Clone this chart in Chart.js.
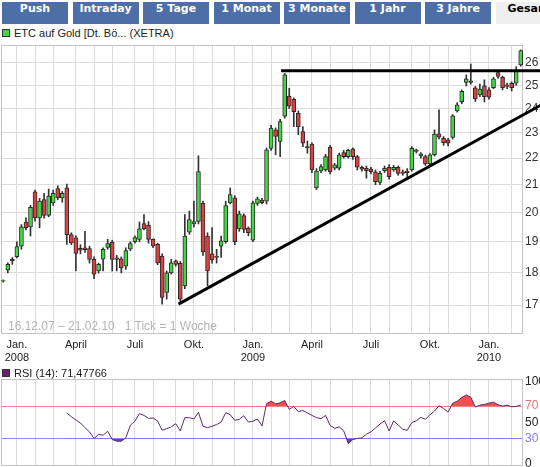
<!DOCTYPE html>
<html>
<head>
<meta charset="utf-8">
<script src="https://cdn.jsdelivr.net/npm/chart.js@4.4.0/dist/chart.umd.min.js"></script>
<style>
    body { margin: 0; background: #fff; width: 540px; height: 467px; overflow: hidden; position: relative; font-family: 'Liberation Sans', Arial, sans-serif; }
    .tab { position: absolute; top: 2px; height: 22px; line-height: 22px; width: 66px; background: #4d6ea6; color: #fff; font: bold 11px 'DejaVu Sans', Verdana, sans-serif; text-align: center; white-space: nowrap; overflow: hidden; }
    .tab.sel { background: #efefef; color: #000; text-align: left; padding-left: 12px; }
    .leg { position: absolute; left: 2px; font-size: 11px; line-height: 13px; color: #222; white-space: nowrap; }
    .leg i { display: inline-block; width: 6px; height: 6px; border: 1px solid #333; margin-right: 4px; }
    .note { position: absolute; left: 8px; top: 319px; font-size: 12px; color: #b4b4b4; white-space: nowrap; }
    canvas { position: absolute; left: 0; }
</style>
</head>
<body>
<div id="tabs"></div>
<div class="leg" style="top:27px"><i style="background:#41d941"></i>ETC auf Gold [Dt. Bö... (XETRA)</div>
<canvas id="price-chart" width="540" height="330" style="top:40px"></canvas>
<div class="note">16.12.07 – 21.02.10&nbsp;&nbsp;&nbsp;1 Tick = 1 Woche</div>
<div class="leg" style="top:367px"><i style="background:#6a1f72"></i>RSI (14): 71,47766</div>
<canvas id="rsi-chart" width="540" height="91" style="top:376px"></canvas>
<script>
// Wochenkerzen 16.12.07 - 21.02.10
const opens = [17.73, 18.08, 18.42, 18.51, 18.85, 19.67, 19.50, 20.74, 19.81, 20.46, 19.90, 20.34, 20.86, 20.52, 20.88, 19.24, 19.13, 18.78, 18.80, 18.77,
    18.42, 18.05, 18.43, 18.81, 18.99, 18.47, 18.44, 18.20, 18.75, 19.00, 19.08, 19.61, 19.56, 19.08, 18.91, 18.53, 17.38, 17.99, 18.37, 18.29,
    17.58, 19.32, 19.60, 19.69, 20.33, 19.19, 18.60, 18.52, 18.85, 19.00, 20.34, 20.52, 19.43, 19.89, 19.46, 19.05, 20.32, 20.44, 20.40, 22.38,
    23.12, 22.65, 23.68, 24.53, 24.39, 23.80, 23.05, 22.45, 22.55, 20.88, 21.51, 21.55, 22.42, 21.62, 21.62, 22.22, 22.06, 22.35, 22.06, 21.65,
    21.61, 21.58, 21.48, 21.08, 21.52, 21.65, 21.55, 21.65, 21.48, 21.51, 21.55, 22.32, 22.09, 22.06, 21.78, 22.13, 22.96, 22.78, 22.72, 22.81,
    23.90, 24.29, 25.13, 25.20, 24.89, 24.58, 24.97, 24.80, 24.89, 25.56, 25.35, 25.02, 25.09, 25.09, 25.91];
const highs = [17.77, 18.31, 18.48, 19.00, 19.58, 19.81, 20.25, 20.80, 20.50, 20.68, 20.84, 20.80, 20.96, 20.75, 21.02, 19.30, 19.20, 18.90, 19.35, 18.85,
    18.50, 18.30, 18.80, 19.08, 19.05, 18.55, 18.50, 18.80, 19.00, 19.20, 19.67, 19.93, 19.68, 19.10, 18.95, 18.60, 18.05, 18.42, 18.40, 18.35,
    19.93, 20.05, 20.40, 22.09, 20.40, 19.30, 19.48, 18.75, 19.19, 20.40, 20.88, 20.60, 20.05, 19.95, 19.50, 20.40, 20.55, 20.50, 22.40, 23.30,
    23.20, 23.55, 25.53, 24.87, 24.45, 23.90, 23.25, 22.67, 22.60, 21.60, 21.75, 22.15, 22.50, 21.80, 22.20, 22.30, 22.35, 22.40, 22.10, 21.70,
    21.70, 21.65, 21.55, 21.50, 21.70, 21.75, 21.72, 21.70, 21.55, 21.60, 22.45, 22.35, 22.22, 22.12, 22.18, 23.12, 23.95, 22.85, 22.78, 23.75,
    24.25, 24.80, 25.46, 25.95, 24.95, 25.05, 25.24, 24.90, 25.35, 25.65, 25.40, 25.10, 25.15, 25.83, 26.60];
const lows = [17.70, 17.99, 18.26, 18.47, 18.75, 19.40, 19.19, 19.70, 19.47, 19.80, 19.85, 20.25, 20.45, 20.36, 18.91, 18.90, 18.05, 18.60, 18.65, 18.30,
    17.81, 17.98, 18.05, 18.75, 18.05, 18.05, 17.99, 18.10, 18.70, 18.95, 19.00, 19.40, 18.95, 18.80, 18.25, 17.03, 17.18, 17.95, 18.20, 17.08,
    17.50, 19.25, 19.50, 19.60, 18.55, 17.59, 18.30, 18.30, 18.48, 18.95, 20.30, 18.90, 19.35, 19.30, 19.20, 19.00, 20.25, 20.30, 20.30, 22.30,
    22.13, 22.06, 23.60, 24.00, 23.25, 22.92, 22.45, 22.19, 21.45, 20.82, 21.45, 21.50, 21.40, 21.55, 21.55, 22.00, 22.00, 21.95, 21.55, 21.50,
    21.24, 21.40, 21.00, 21.00, 21.45, 21.20, 21.50, 21.35, 21.35, 21.20, 21.50, 22.20, 22.00, 21.72, 21.72, 22.08, 22.75, 22.50, 22.48, 22.75,
    23.85, 24.20, 24.97, 25.05, 24.30, 24.50, 24.28, 24.40, 24.85, 25.30, 24.80, 24.85, 24.75, 25.00, 25.85];
const closes = [17.75, 18.26, 18.38, 18.84, 19.50, 19.47, 20.18, 19.81, 20.40, 19.90, 20.58, 20.68, 20.52, 20.68, 19.24, 18.96, 18.61, 18.72, 18.74, 18.42,
    17.95, 18.26, 18.75, 18.94, 18.42, 18.42, 18.15, 18.71, 18.94, 19.14, 19.43, 19.43, 19.08, 18.86, 18.31, 17.23, 17.99, 18.31, 18.26, 17.18,
    19.19, 19.75, 19.68, 21.49, 18.66, 18.05, 18.40, 18.48, 19.03, 20.24, 20.64, 19.00, 19.95, 19.41, 19.30, 20.34, 20.48, 20.35, 22.32, 23.19,
    22.85, 23.46, 25.46, 24.10, 23.87, 23.25, 22.59, 22.40, 21.55, 21.51, 21.68, 22.06, 21.48, 21.74, 22.13, 22.06, 22.30, 22.06, 21.65, 21.58,
    21.52, 21.48, 21.11, 21.42, 21.61, 21.30, 21.65, 21.42, 21.42, 21.45, 22.38, 22.26, 22.17, 21.78, 22.13, 22.95, 22.82, 22.61, 22.59, 23.69,
    24.16, 24.74, 25.28, 25.13, 24.41, 24.83, 24.50, 24.48, 25.28, 25.39, 24.90, 24.95, 24.89, 25.68, 26.57];
// RSI (14), erste 14 Wochen ohne Wert
const rsiValues = [null, null, null, null, null, null, null, null, null, null, null, null, null, null, 61.6, 57.1, 53.1, 49.4, 43.7, 38.5,
    30.4, 35.6, 34.4, 39.3, 29.2, 27.1, 27.1, 31.2, 46.6, 51.8, 60.8, 58.7, 55.1, 55.5, 51.8, 40.5, 42.5, 44.6, 48.6, 39.7,
    55.9, 55.9, 54.3, 62.4, 45.4, 43.7, 45.4, 47.4, 50.6, 62.0, 59.5, 52.7, 53.9, 58.3, 50.6, 51.4, 54.3, 45.8, 72.9, 76.1,
    72.9, 74.1, 77.0, 66.0, 69.7, 63.2, 64.8, 61.6, 58.7, 55.9, 54.7, 58.7, 46.6, 42.9, 44.6, 39.7, 24.3, 29.2, 30.4, 31.2,
    35.6, 38.5, 43.3, 48.2, 52.2, 39.7, 51.8, 47.0, 41.7, 40.5, 49.8, 52.2, 56.3, 53.9, 59.5, 64.0, 70.5, 67.2, 62.8, 73.7,
    76.1, 80.6, 83.8, 81.0, 68.9, 71.3, 72.1, 73.7, 74.9, 71.7, 70.1, 71.3, 69.3, 69.7, 71.5];

// Trendlinien (Woche, Kurs)
const supportLine = [{ x: 38.6, y: 17.03 }, { x: 118.5, y: 24.15 }];
const resistanceLine = [{ x: 61.2, y: 25.64 }, { x: 118.5, y: 25.64 }];

const yTicks = [17, 18, 19, 20, 21, 22, 23, 24, 25, 26];
const rsiTicks = [0, 30, 50, 70, 100];
const monthNames = ['Jan.', '', '', 'April', '', '', 'Juli', '', '', 'Okt.', '', ''];
const tabLabels = ['Push', 'Intraday', '5 Tage', '1 Monat', '3 Monate', '1 Jahr', '3 Jahre', 'Gesamt'];

// Reiter oben
const tabsEl = document.getElementById('tabs');
tabLabels.forEach((t, k) => {
    const d = document.createElement('div');
    d.className = 'tab' + (k === tabLabels.length - 1 ? ' sel' : '');
    d.style.left = (2 + k * 70.5) + 'px';
    d.textContent = t;
    tabsEl.appendChild(d);
});

// Monatsraster: erste Woche jedes Monats
const startDate = Date.UTC(2007, 11, 16);
const monthTicks = [];
for (let y = 2008; y <= 2010; y++) {
    for (let m = 0; m < 12; m++) {
        if (y === 2010 && m > 1) break;
        const w = Math.ceil((Date.UTC(y, m, 1) - startDate) / (7 * 864e5));
        monthTicks.push({ value: w, label: m === 0 ? [monthNames[m], String(y)] : monthNames[m] });
    }
}

const N = closes.length;
const gridColor = '#dcdcdc';

const plotBorder = {
    id: 'plotBorder',
    beforeDatasetsDraw(chart) {
        const a = chart.chartArea;
        const ctx = chart.ctx;
        ctx.save();
        ctx.strokeStyle = '#c4c4c4';
        ctx.lineWidth = 1;
        ctx.strokeRect(Math.round(a.left) + 0.5, Math.round(a.top) + 0.5, Math.round(a.right - a.left) - 1, Math.round(a.bottom - a.top) - 1);
        ctx.restore();
    }
};

function xScale(showLabels) {
    return {
        type: 'linear',
        min: -0.5,
        max: N - 0.5,
        offset: false,
        afterBuildTicks: s => { s.ticks = monthTicks.map(t => ({ value: t.value })); },
        afterFit: s => { s.height = showLabels ? 36 : 0; s.paddingLeft = 0; s.paddingRight = 0; },
        grid: { color: gridColor, drawTicks: false, offset: false },
        border: { display: false },
        ticks: {
            display: showLabels,
            autoSkip: false,
            maxRotation: 0,
            padding: 4,
            color: '#222',
            font: { size: 11 },
            callback: (v, idx) => monthTicks[idx] ? monthTicks[idx].label : ''
        }
    };
}

Chart.defaults.font.family = "'Liberation Sans', Arial, sans-serif";

const bodyColors = opens.map((o, i) => closes[i] >= o ? '#41d941' : '#db4141');

new Chart(document.getElementById('price-chart'), {
    type: 'bar',
    data: {
        datasets: [
            {
                type: 'line',
                data: supportLine,
                borderColor: '#000',
                borderWidth: 3,
                pointRadius: 0,
                clip: false,
                order: 0
            },
            {
                type: 'line',
                data: resistanceLine,
                borderColor: '#000',
                borderWidth: 3,
                pointRadius: 0,
                clip: false,
                order: 0
            },
            {
                data: opens.map((o, i) => ({ x: i, y: [o, closes[i]] })),
                backgroundColor: bodyColors,
                borderColor: '#2a2a2a',
                borderWidth: 1,
                borderSkipped: false,
                barThickness: 4,
                grouped: false,
                order: 1
            },
            {
                data: lows.map((l, i) => ({ x: i, y: [l, highs[i]] })),
                backgroundColor: '#333',
                borderWidth: 0,
                barThickness: 1,
                grouped: false,
                order: 2
            }
        ]
    },
    options: {
        responsive: false,
        animation: false,
        devicePixelRatio: 1,
        layout: { padding: { top: 5, left: 1, right: 0, bottom: 0 } },
        plugins: { legend: { display: false }, tooltip: { enabled: false } },
        scales: {
            x: xScale(true),
            y: {
                type: 'logarithmic',
                position: 'right',
                min: 16.16,
                max: 26.83,
                afterBuildTicks: s => { s.ticks = yTicks.map(v => ({ value: v })); },
                afterFit: s => { s.width = 17; s.paddingTop = 0; s.paddingBottom = 0; },
                grid: { color: gridColor, drawTicks: false },
                border: { display: false },
                ticks: { padding: 2, color: '#333', font: { size: 12 }, callback: v => String(v) }
            }
        }
    },
    plugins: [plotBorder]
});

const rsiPoints = rsiValues.map((v, i) => ({ x: i, y: v })).filter(p => p.y !== null);

new Chart(document.getElementById('rsi-chart'), {
    type: 'line',
    data: {
        datasets: [
            {
                data: rsiPoints,
                borderColor: '#5e2a6e',
                borderWidth: 1,
                pointRadius: 0,
                tension: 0,
                fill: { value: 70, above: '#f05050', below: 'rgba(0,0,0,0)' }
            },
            {
                data: rsiPoints,
                borderWidth: 0,
                borderColor: 'rgba(0,0,0,0)',
                pointRadius: 0,
                tension: 0,
                fill: { value: 30, above: 'rgba(0,0,0,0)', below: '#5a45c8' }
            }
        ]
    },
    options: {
        responsive: false,
        animation: false,
        devicePixelRatio: 1,
        layout: { padding: { top: 3, left: 1, right: 0, bottom: 1 } },
        plugins: { legend: { display: false }, tooltip: { enabled: false } },
        scales: {
            x: xScale(false),
            y: {
                position: 'right',
                min: -3.3,
                max: 103.3,
                afterBuildTicks: s => { s.ticks = rsiTicks.map(v => ({ value: v })); },
                afterFit: s => { s.width = 17; s.paddingTop = 0; s.paddingBottom = 0; },
                grid: {
                    drawTicks: false,
                    color: c => c.tick.value === 70 ? '#f08a8a' : c.tick.value === 30 ? '#8c8cf0' : 'rgba(0,0,0,0)'
                },
                border: { display: false },
                ticks: {
                    padding: 2,
                    font: { size: 12 },
                    color: c => c.tick.value === 70 ? '#f07070' : c.tick.value === 30 ? '#8080e8' : '#222',
                    callback: v => String(v)
                }
            }
        }
    },
    plugins: [plotBorder]
});
</script>
</body>
</html>
